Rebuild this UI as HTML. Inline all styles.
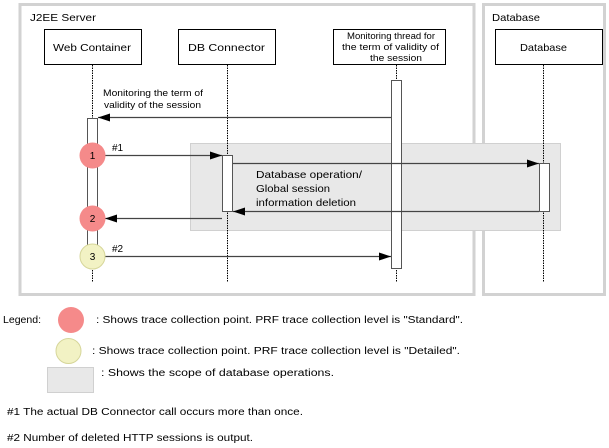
<!DOCTYPE html>
<html><head><meta charset="utf-8"><style>
html,body{margin:0;padding:0;background:#fff;}
svg{display:block;font-family:"Liberation Sans",sans-serif;}
</style></head><body>
<svg width="609" height="448" viewBox="0 0 609 448" xmlns="http://www.w3.org/2000/svg">
<defs>
<marker id="a" markerWidth="12" markerHeight="8" refX="12" refY="4" orient="auto" markerUnits="userSpaceOnUse"><path d="M0,0 L12,4 L0,8 z" fill="#000"/></marker>
</defs>
<rect x="20" y="4.5" width="454" height="290" fill="#fff" stroke="#d2d2d2" stroke-width="3"/>
<rect x="483.5" y="4.5" width="121" height="290" fill="#fff" stroke="#d2d2d2" stroke-width="3"/>
<text x="30" y="21" font-size="10.5" textLength="66" lengthAdjust="spacingAndGlyphs">J2EE  Server</text>
<text x="492" y="21" font-size="10.5" textLength="48" lengthAdjust="spacingAndGlyphs">Database</text>
<rect x="190.5" y="143.5" width="370" height="87" fill="#e8e8e8" stroke="#d0d0d0"/>
<g stroke="#000" stroke-width="1" fill="#fff">
<rect x="44.5" y="29.5" width="97" height="35"/>
<rect x="178.5" y="29.5" width="97" height="35"/>
<rect x="333.5" y="29.5" width="112" height="35"/>
<rect x="495.5" y="29.5" width="107" height="35"/>
</g>
<g font-size="10.5">
<text x="53" y="51" textLength="78" lengthAdjust="spacingAndGlyphs">Web  Container</text>
<text x="188" y="51" textLength="77" lengthAdjust="spacingAndGlyphs">DB  Connector</text>
<text x="520" y="51" textLength="47" lengthAdjust="spacingAndGlyphs">Database</text>
</g>
<g font-size="9">
<text x="347" y="39" textLength="88" lengthAdjust="spacingAndGlyphs">Monitoring thread  for</text>
<text x="342" y="50" textLength="97" lengthAdjust="spacingAndGlyphs">the  term  of  validity  of</text>
<text x="370" y="61" textLength="52" lengthAdjust="spacingAndGlyphs">the  session</text>
</g>
<g stroke="#000" stroke-dasharray="1.5,1" stroke-width="1">
<line x1="92.5" y1="65" x2="92.5" y2="282"/>
<line x1="227.5" y1="65" x2="227.5" y2="282"/>
<line x1="396.5" y1="65" x2="396.5" y2="282"/>
<line x1="543.5" y1="65" x2="543.5" y2="282"/>
</g>
<g stroke="#555" fill="#fff">
<rect x="87.5" y="118.5" width="10" height="139"/>
<rect x="391.5" y="80.5" width="10" height="188"/>
<rect x="222.5" y="155.5" width="10" height="56"/>
<rect x="539.5" y="163.5" width="10" height="48"/>
</g>
<g stroke="#444" stroke-width="1.3">
<line x1="391" y1="117.5" x2="98" y2="117.5" marker-end="url(#a)"/>
<line x1="105" y1="155.5" x2="222" y2="155.5" marker-end="url(#a)"/>
<line x1="233" y1="163.5" x2="539" y2="163.5" marker-end="url(#a)"/>
<line x1="539" y1="211.5" x2="233" y2="211.5" marker-end="url(#a)"/>
<line x1="222" y1="218.5" x2="105" y2="218.5" marker-end="url(#a)"/>
<line x1="105" y1="256.5" x2="391" y2="256.5" marker-end="url(#a)"/>
</g>
<text x="103" y="96" font-size="9" textLength="100" lengthAdjust="spacingAndGlyphs">Monitoring the term of</text>
<text x="104" y="108" font-size="9" textLength="97" lengthAdjust="spacingAndGlyphs">validity of the session</text>
<text x="112" y="151" font-size="10">#1</text>
<text x="112" y="252" font-size="10">#2</text>
<g font-size="10.5">
<text x="256" y="178" textLength="106" lengthAdjust="spacingAndGlyphs">Database operation/</text>
<text x="256" y="192" textLength="74" lengthAdjust="spacingAndGlyphs">Global session</text>
<text x="256" y="206" textLength="100" lengthAdjust="spacingAndGlyphs">information deletion</text>
</g>
<circle cx="92.5" cy="155.5" r="13" fill="#f58a8a"/>
<circle cx="92.5" cy="218.5" r="13" fill="#f58a8a"/>
<circle cx="92.5" cy="256.5" r="12.5" fill="#f2f2c4" stroke="#d6d69a"/>
<g font-size="10" text-anchor="middle">
<text x="92.5" y="159">1</text><text x="92.5" y="222">2</text><text x="92.5" y="260">3</text>
</g>
<g font-size="10">
<text x="3" y="323" textLength="38" lengthAdjust="spacingAndGlyphs">Legend:</text>
<circle cx="71" cy="320" r="13" fill="#f58a8a"/>
<text x="96" y="323" textLength="367" lengthAdjust="spacingAndGlyphs">: Shows trace collection point. PRF trace collection level is "Standard".</text>
<circle cx="68.5" cy="351" r="12.5" fill="#f2f2c4" stroke="#d6d69a"/>
<text x="92" y="354" textLength="368" lengthAdjust="spacingAndGlyphs">: Shows trace collection point. PRF trace collection level is "Detailed".</text>
<rect x="47.5" y="367.5" width="46" height="25" fill="#e8e8e8" stroke="#d0d0d0"/>
<text x="101" y="376" textLength="233" lengthAdjust="spacingAndGlyphs">:  Shows  the  scope  of  database  operations.</text>
<text x="7" y="415" textLength="296" lengthAdjust="spacingAndGlyphs">#1 The actual DB Connector call occurs more than once.</text>
<text x="7" y="441" textLength="246" lengthAdjust="spacingAndGlyphs">#2 Number of deleted HTTP sessions is output.</text>
</g>
</svg>
</body></html>
